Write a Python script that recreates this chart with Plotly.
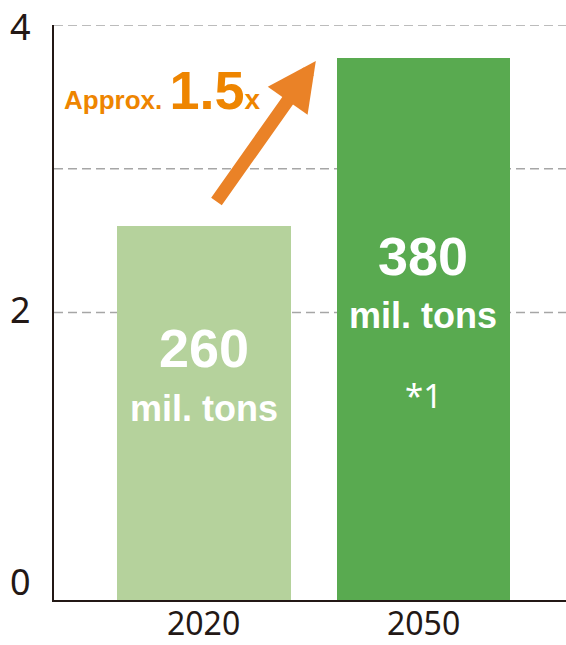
import plotly.graph_objects as go

# ---- data ----
years = ["2020", "2050"]
values = [2.6, 3.77]                 # hundred million tons
value_labels = ["260", "380"]
unit_label = "mil. tons"
note_labels = ["", "*1"]
y_tick_vals = [0, 2, 4]
y_tick_text = ["0", "2", "4"]
grid_vals = [2, 3, 4]
growth_text = "Approx."
growth_factor = "1.5"
growth_suffix = "x"

# ---- styles ----
bar_colors = ["#B5D29C", "#59AA50"]
axis_color = "#231815"
orange_text = "#EE8500"
orange_arrow = "#EA8227"
bold_font = "Liberation Sans"
reg_font = "Noto Sans"

fig = go.Figure()
fig.add_trace(go.Bar(
    x=[0, 1], y=values, width=0.79,
    marker=dict(color=bar_colors, line=dict(width=0)),
    hoverinfo="skip", showlegend=False,
))

shapes = []
for g in grid_vals:
    shapes.append(dict(type="line", xref="paper", x0=0, x1=1, yref="y", y0=g, y1=g,
                       line=dict(color="#A6A6A6", width=1.5, dash="9px,5px"), layer="below"))

annotations = []
label_pos = [
    dict(main=1.75, unit=1.33, note=None),
    dict(main=2.395, unit=1.98, note=1.425),
]
for i, lab in enumerate(value_labels):
    p = label_pos[i]
    annotations.append(dict(x=i, y=p["main"], xref="x", yref="y", text=lab, showarrow=False,
                            font=dict(family=bold_font, size=54, color="white", weight="bold"),
                            xanchor="center", yanchor="middle"))
    annotations.append(dict(x=i, y=p["unit"], xref="x", yref="y", text=unit_label, showarrow=False,
                            font=dict(family=bold_font, size=36, color="white", weight="bold"),
                            xanchor="center", yanchor="middle"))
    if note_labels[i]:
        annotations.append(dict(x=i, y=p["note"], xref="x", yref="y", text=note_labels[i], showarrow=False,
                                font=dict(family=reg_font, size=33, color="white"),
                                xanchor="center", yanchor="middle"))

# y tick labels (drawn as text next to the axis)
y_label_style = [("middle", 19), ("middle", 3), ("top", 25)]
for v, t, (anc, s) in zip(y_tick_vals, y_tick_text, y_label_style):
    annotations.append(dict(x=0, y=v, xref="paper", yref="y", text=t, showarrow=False,
                            xanchor="right", yanchor=anc, xshift=-21, yshift=s,
                            font=dict(family=reg_font, size=36, color=axis_color)))

# x tick labels
for i, yr in enumerate(years):
    annotations.append(dict(x=i, y=0, xref="x", yref="paper", text=yr, showarrow=False,
                            xanchor="center", yanchor="middle", yshift=-22,
                            font=dict(family=reg_font, size=32, color=axis_color)))

# growth text
annotations.append(dict(
    x=-0.646, y=3.55, xref="x", yref="y", xanchor="left", yanchor="middle", showarrow=False,
    text=(f"{growth_text} <span style='font-size:54px'>{growth_factor}</span>"
          f"<span style='font-size:28px'>{growth_suffix}</span>"),
    font=dict(family=bold_font, size=26, color=orange_text, weight="bold"),
))
# arrow from 2020 level towards 2050 level
annotations.append(dict(
    x=0.51, y=3.75, ax=0.0525, ay=2.762, xref="x", yref="y", axref="x", ayref="y",
    text="", showarrow=True, arrowhead=2, arrowsize=0.75, arrowwidth=13,
    arrowcolor=orange_arrow, standoff=0,
))

fig.update_layout(
    width=566, height=645,
    margin=dict(l=54, r=0, t=25, b=45, autoexpand=False),
    paper_bgcolor="white", plot_bgcolor="white",
    shapes=shapes, annotations=annotations,
    xaxis=dict(range=[-0.683, 1.65], tickvals=[0, 1], showticklabels=False, automargin=False,
               showline=True, linecolor=axis_color, linewidth=2, showgrid=False, zeroline=False,
               ticks="", fixedrange=True),
    yaxis=dict(range=[0, 4], showline=True, linecolor=axis_color, linewidth=2, automargin=False,
               showgrid=False, zeroline=False, showticklabels=False, ticks="", fixedrange=True),
    bargap=0,
)

fig.write_html("out.html")
